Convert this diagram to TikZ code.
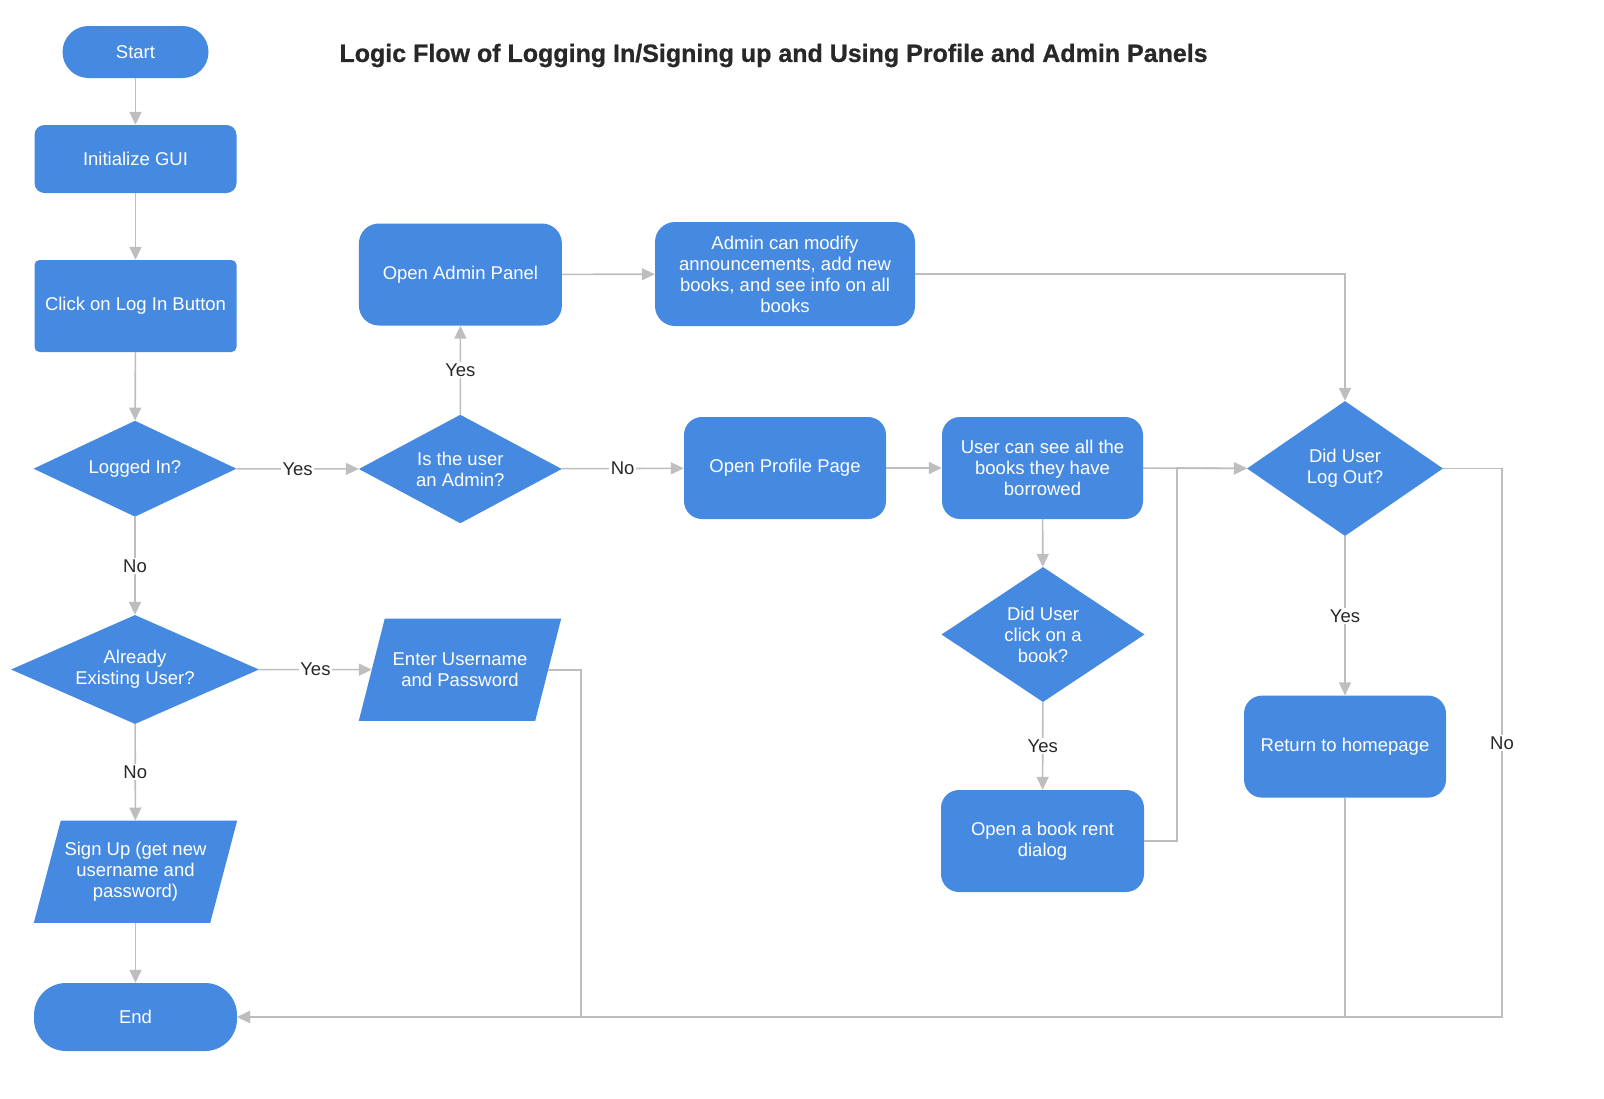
\documentclass[tikz,border=0pt]{standalone}
\usepackage{fontspec}
\setmainfont{Liberation Sans}
\newfontfamily\titlefont[FakeBold=0.8]{Liberation Sans Bold}
\usetikzlibrary{shapes.geometric,arrows.meta,backgrounds}
\definecolor{flowblue}{RGB}{69,137,224}
\definecolor{linegray}{RGB}{190,190,190}
\definecolor{labelgray}{RGB}{40,40,40}
\newcommand\nfont{\fontsize{18.5}{21}\selectfont}
\tikzset{
  box/.style={fill=flowblue, text=white, font=\nfont, align=center, inner sep=0pt, draw=none},
  dia/.style={shape=diamond, fill=flowblue, inner sep=0pt, draw=none},
  dtext/.style={text=white, font=\nfont, align=center, inner sep=0pt},
  para/.style={text=white, font=\nfont, align=center, inner sep=0pt},
  conn/.style={draw=linegray, line width=1.6pt, -{Triangle[length=13pt,width=12pt]}},
  plain/.style={draw=linegray, line width=1.6pt},
  lbl/.style={fill=white, text=labelgray, font=\nfont, inner sep=1.5pt},
  titlestyle/.style={text=labelgray, font=\titlefont\fontsize{25}{28}\selectfont, inner sep=0pt}
}
\begin{document}
\begin{tikzpicture}[x=1pt,y=-1pt]
\useasboundingbox (0,0) rectangle (1604,1098);

\node[titlestyle] (title) at (773.5,55.5) {Logic Flow of Logging In/Signing up and Using Profile and Admin Panels};

% left column
\node[box, rounded corners=26pt, minimum width=146pt, minimum height=52pt] (start) at (135.5,52) {Start};
\node[box, rounded corners=10pt, minimum width=202pt, minimum height=68pt] (init) at (135.5,159) {Initialize GUI};
\node[box, rounded corners=5pt, minimum width=202pt, minimum height=92pt] (click) at (135.5,306) {Click on Log In Button};
\node[dia, minimum width=203pt, minimum height=96pt, label={[dtext]center:{Logged In?}}] (logged) at (135,468.7) {};
\node[dia, minimum width=248pt, minimum height=109pt, label={[dtext]center:{Already\\Existing User?}}] (already) at (135,669.5) {};
\node[para, minimum width=176pt, minimum height=102pt] (signup) at (135.5,871.7) {Sign Up (get new\\username and\\password)};
\node[box, rounded corners=32pt, minimum width=203pt, minimum height=68pt] (end) at (135.5,1017) {End};

% second column
\node[box, rounded corners=20pt, minimum width=203pt, minimum height=102pt] (adminpanel) at (460.4,274.5) {Open Admin Panel};
\node[dia, minimum width=203pt, minimum height=108.6pt, label={[dtext]center:{Is the user\\an Admin?}}] (isadmin) at (460.3,469) {};
\node[para, minimum width=176pt, minimum height=102pt] (enter) at (460,669.7) {Enter Username\\and Password};

% third column
\node[box, rounded corners=20pt, minimum width=260pt, minimum height=104pt] (adminmod) at (785,274) {Admin can modify\\announcements, add new\\books, and see info on all\\books};
\node[box, rounded corners=18pt, minimum width=202pt, minimum height=102pt] (profile) at (785,468) {Open Profile Page};

% fourth column
\node[box, rounded corners=18pt, minimum width=201pt, minimum height=102pt] (usersee) at (1042.5,468) {User can see all the\\books they have\\borrowed};
\node[dia, minimum width=203pt, minimum height=135pt, label={[dtext]center:{Did User\\click on a\\book?}}] (clickbook) at (1043,634.5) {};
\node[box, rounded corners=18pt, minimum width=203pt, minimum height=102pt] (rent) at (1042.5,841) {Open a book rent\\dialog};

% fifth column
\node[dia, minimum width=196pt, minimum height=135pt, label={[dtext]center:{Did User\\Log Out?}}] (logout) at (1345,468.5) {};
\node[box, rounded corners=18pt, minimum width=202pt, minimum height=102pt] (return) at (1345,746.6) {Return to homepage};

% parallelogram backgrounds
\begin{pgfonlayer}{background}
\fill[flowblue] ([xshift=13.5pt]signup.north west) -- ([xshift=13.5pt]signup.north east) -- ([xshift=-13.5pt]signup.south east) -- ([xshift=-13.5pt]signup.south west) -- cycle;
\fill[flowblue] ([xshift=13pt]enter.north west) -- ([xshift=13pt]enter.north east) -- ([xshift=-13pt]enter.south east) -- ([xshift=-13pt]enter.south west) -- cycle;
\end{pgfonlayer}

% junction coordinates
\coordinate (j1) at (1177,468);
\coordinate (bot2) at (581,1017);
\coordinate (bot3) at (1502,1017);

% connectors
\draw[conn] (start) -- (init);
\draw[conn] (init) -- (click);
\draw[conn] (click) -- (logged);
\draw[conn] (logged) -- node[lbl]{Yes} (isadmin);
\draw[conn] (logged) -- node[lbl]{No} (already);
\draw[conn] (isadmin) -- node[lbl]{Yes} (adminpanel);
\draw[conn] (isadmin) -- node[lbl]{No} (profile);
\draw[conn] (adminpanel) -- (adminmod);
\draw[conn] (adminmod.east) -| (logout.north);
\draw[conn] (profile) -- (usersee);
\draw[conn] (usersee) -- (logout);
\draw[conn] (usersee) -- (clickbook);
\draw[conn] (clickbook) -- node[lbl]{Yes} (rent);
\draw[conn] (rent.east) -| (j1) -- (logout.west);
\draw[conn] (already) -- node[lbl]{Yes} (enter);
\draw[conn] (already) -- node[lbl]{No} (signup);
\draw[conn] (signup) -- (end);
\draw[conn] (enter.east) -| (bot2) -- (end.east);
\draw[conn] (logout) -- node[lbl]{Yes} (return);
\draw[plain] (return.south) -- (return.south |- end.east);
\draw[conn] (logout.east) -| node[lbl, pos=0.75]{No} (bot3) -- (end.east);
\end{tikzpicture}
\end{document}
